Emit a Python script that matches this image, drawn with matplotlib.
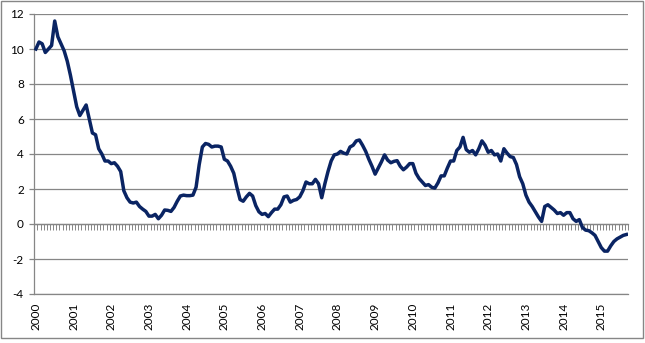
import matplotlib
matplotlib.use("Agg")
import matplotlib.pyplot as plt
from matplotlib.patches import Rectangle

# Monthly values, Jan 2000 - Sep 2015
v2000 = [10.0, 10.4, 10.3, 9.8, 10.0, 10.2, 11.6, 10.7, 10.3, 9.9, 9.3, 8.5]
v2001 = [7.6, 6.7, 6.2, 6.5, 6.8, 6.0, 5.2, 5.1, 4.3, 4.0, 3.6, 3.6]
v2002 = [3.45, 3.5, 3.3, 3.0, 1.9, 1.5, 1.25, 1.2, 1.25, 1.0, 0.85, 0.72]
v2003 = [0.45, 0.45, 0.55, 0.3, 0.5, 0.8, 0.78, 0.72, 0.95, 1.3, 1.6, 1.65]
v2004 = [1.62, 1.62, 1.65, 2.1, 3.4, 4.4, 4.6, 4.55, 4.4, 4.45, 4.45, 4.4]
v2005 = [3.7, 3.6, 3.3, 2.9, 2.1, 1.4, 1.3, 1.55, 1.75, 1.6, 1.05, 0.7]
v2006 = [0.55, 0.6, 0.42, 0.65, 0.85, 0.85, 1.1, 1.55, 1.6, 1.25, 1.35, 1.4]
v2007 = [1.55, 1.9, 2.4, 2.3, 2.3, 2.55, 2.3, 1.5, 2.3, 3.0, 3.6, 3.95]
v2008 = [4.0, 4.15, 4.05, 4.0, 4.4, 4.5, 4.75, 4.8, 4.5, 4.15, 3.7, 3.3]
v2009 = [2.85, 3.2, 3.55, 3.95, 3.65, 3.5, 3.58, 3.62, 3.3, 3.1, 3.25, 3.45]
v2010 = [3.45, 2.9, 2.6, 2.4, 2.2, 2.25, 2.1, 2.05, 2.35, 2.75, 2.75, 3.2]
v2011 = [3.6, 3.6, 4.2, 4.4, 4.95, 4.25, 4.1, 4.2, 3.95, 4.3, 4.75, 4.5]
v2012 = [4.1, 4.2, 3.95, 4.0, 3.6, 4.3, 4.05, 3.85, 3.8, 3.4, 2.7, 2.3]
v2013 = [1.65, 1.25, 1.0, 0.7, 0.4, 0.15, 1.0, 1.1, 0.95, 0.8, 0.6, 0.65]
v2014 = [0.5, 0.65, 0.65, 0.3, 0.15, 0.25, -0.2, -0.35, -0.38, -0.5, -0.65, -1.0]
v2015 = [-1.35, -1.55, -1.55, -1.25, -1.0, -0.85, -0.75, -0.65, -0.6]

values = (v2000 + v2001 + v2002 + v2003 + v2004 + v2005 + v2006 + v2007 +
          v2008 + v2009 + v2010 + v2011 + v2012 + v2013 + v2014 + v2015)
year_labels = [str(y) for y in range(2000, 2016)]
y_ticks = [-4, -2, 0, 2, 4, 6, 8, 10, 12]

grey = "#868686"
navy = "#0A2463"
plt.rcParams['font.family'] = ['Lato', 'DejaVu Sans']

fig = plt.figure(figsize=(6.45, 3.43), dpi=100)
ax = fig.add_axes([34.3 / 645, 1 - 294 / 343, (628 - 34.3) / 645, (294 - 14) / 343])

n = len(values)
x = list(range(n))
ax.plot(x, values, color=navy, lw=2.5, solid_joinstyle='round', zorder=3)

ax.set_xlim(-0.5, n - 0.5)
ax.set_ylim(-4, 12)
ax.set_yticks(y_ticks)
ax.set_yticklabels([str(t) for t in y_ticks], fontsize=8.5)
ax.yaxis.grid(True, color=grey, lw=0.9)
ax.set_axisbelow(True)
ax.tick_params(axis='y', length=3.5, color=grey, width=0.9, pad=4)

ax.set_xticks([12 * i for i in range(len(year_labels))])
ax.set_xticklabels(year_labels, rotation=90, fontsize=8.5, va='top', ha='center')
ax.tick_params(axis='x', length=0, pad=6)

for s in ['top', 'right']:
    ax.spines[s].set_visible(False)
for s in ['left', 'bottom']:
    ax.spines[s].set_color(grey)
    ax.spines[s].set_linewidth(0.9)

# Category axis crossing at zero with a tick between every month
sec = ax.secondary_xaxis(0.25)
sec.set_xticks([i - 0.5 for i in range(n + 1)])
sec.set_xticklabels([])
sec.tick_params(axis='x', length=4, color=grey, width=0.7, direction='out')
sec.spines['bottom'].set_color(grey)
sec.spines['bottom'].set_linewidth(0.9)

fig.add_artist(Rectangle((1 / 645, 1 - 338 / 343), 642 / 645, 337 / 343,
                         transform=fig.transFigure, fill=False,
                         edgecolor=grey, lw=1))

fig.savefig("out.png", dpi=100)
